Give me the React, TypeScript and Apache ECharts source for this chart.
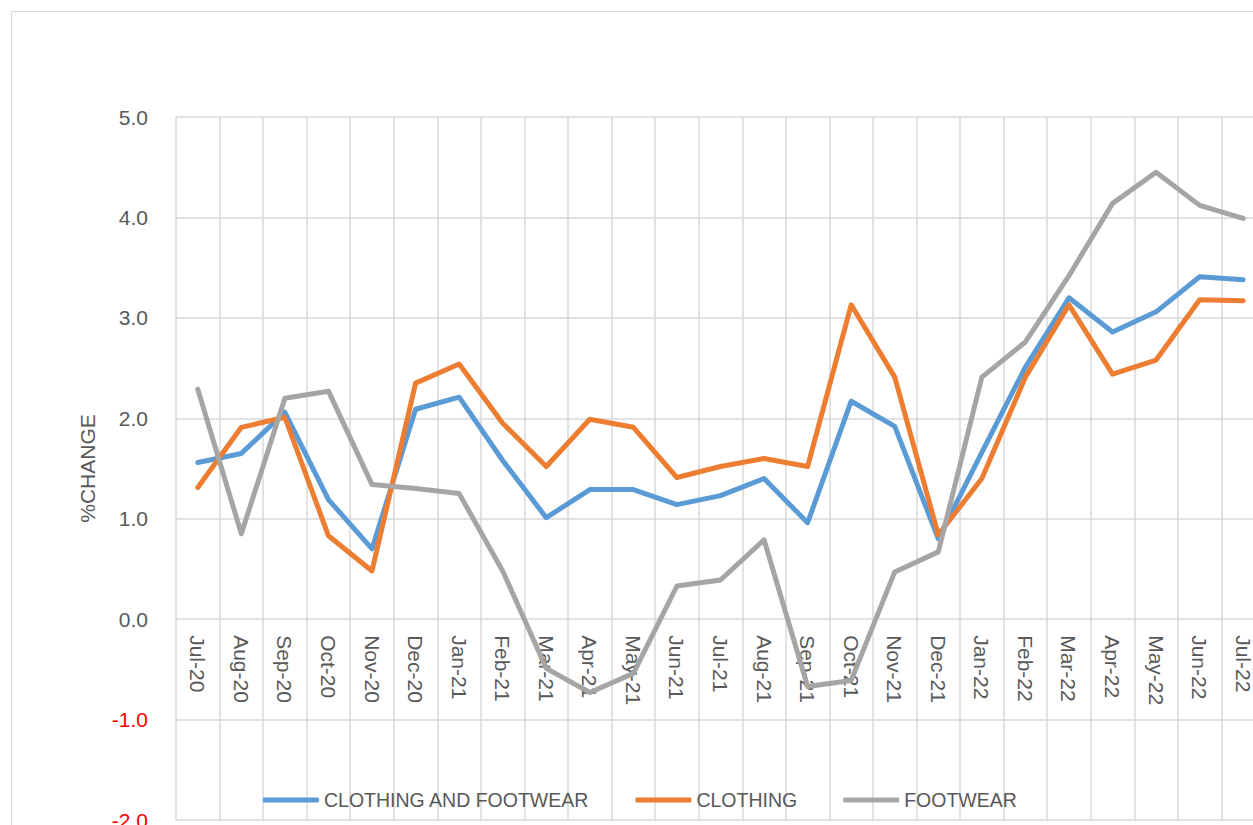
import React, { useEffect, useRef } from "react";
import * as echarts from "echarts";

const categories = [
  "Jul-20", "Aug-20", "Sep-20", "Oct-20", "Nov-20", "Dec-20", "Jan-21", "Feb-21", "Mar-21",
  "Apr-21", "May-21", "Jun-21", "Jul-21", "Aug-21", "Sep-21", "Oct-21", "Nov-21", "Dec-21",
  "Jan-22", "Feb-22", "Mar-22", "Apr-22", "May-22", "Jun-22", "Jul-22",
];

const clothingAndFootwear = [
  1.56, 1.65, 2.06, 1.19, 0.70, 2.09, 2.21, 1.58, 1.01, 1.29, 1.29, 1.14, 1.23, 1.40, 0.96,
  2.17, 1.92, 0.80, 1.66, 2.51, 3.20, 2.86, 3.06, 3.41, 3.38,
];

const clothing = [
  1.31, 1.91, 2.01, 0.83, 0.48, 2.35, 2.54, 1.95, 1.52, 1.99, 1.91, 1.41, 1.52, 1.60, 1.52,
  3.13, 2.41, 0.84, 1.40, 2.41, 3.13, 2.44, 2.58, 3.18, 3.17,
];

const footwear = [
  2.29, 0.85, 2.20, 2.27, 1.34, 1.30, 1.25, 0.48, -0.49, -0.73, -0.54, 0.33, 0.39, 0.79, -0.67,
  -0.61, 0.47, 0.67, 2.41, 2.76, 3.42, 4.14, 4.45, 4.12, 3.99,
];

const seriesNames = ["CLOTHING AND FOOTWEAR", "CLOTHING", "FOOTWEAR"];
const seriesColors = ["#5B9BD5", "#ED7D31", "#A5A5A5"];
const yAxisName = "%CHANGE";
const yMin = -2;
const yMax = 5;

const FONT = "'Liberation Sans', Arial, sans-serif";
const TEXT = "#595959";
const GRID = "#D9D9D9";

const GRID_TOP = 117;
const GRID_BOTTOM = 5;
const HEIGHT = 825;

export default function App() {
  const ref = useRef<HTMLDivElement>(null);

  useEffect(() => {
    document.body.style.margin = "0";
    if (!ref.current) return;
    const chart = echarts.init(ref.current, null, { renderer: "svg" });
    const data = [clothingAndFootwear, clothing, footwear];
    const plotH = HEIGHT - GRID_TOP - GRID_BOTTOM;
    const zeroOffset = -(plotH * (0 - yMin)) / (yMax - yMin);
    chart.setOption({
      animation: false,
      backgroundColor: "#ffffff",
      textStyle: { fontFamily: FONT },
      graphic: [
        {
          type: "rect",
          shape: { x: 11.5, y: 11.5, width: 1400, height: 1000 },
          style: { fill: "none", stroke: GRID, lineWidth: 1 },
          silent: true,
          z: -10,
        },
      ],
      grid: {
        left: 176,
        right: -12,
        top: GRID_TOP,
        bottom: GRID_BOTTOM,
        containLabel: false,
        outerBoundsMode: "none",
      },
      legend: {
        data: seriesNames,
        left: 258,
        top: 785,
        itemWidth: 56,
        itemHeight: 5,
        itemGap: 46,
        icon: "roundRect",
        textStyle: { color: TEXT, fontSize: 19.5, fontFamily: FONT },
      },
      xAxis: {
        type: "category",
        data: categories,
        boundaryGap: true,
        position: "bottom",
        offset: zeroOffset,
        axisLine: { show: false, onZero: false },
        axisTick: { show: false },
        splitLine: { show: true, lineStyle: { color: GRID, width: 1.5 } },
        axisLabel: {
          rotate: -90,
          interval: 0,
          margin: 16,
          color: TEXT,
          fontSize: 21,
          fontFamily: FONT,
        },
      },
      yAxis: {
        type: "value",
        min: yMin,
        max: yMax,
        interval: 1,
        name: yAxisName,
        nameLocation: "middle",
        nameRotate: 90,
        nameGap: 78,
        nameTextStyle: { color: TEXT, fontSize: 21, fontFamily: FONT },
        axisLine: { show: false },
        axisTick: { show: false },
        splitLine: { show: true, lineStyle: { color: GRID, width: 1.5 } },
        axisLabel: {
          margin: 28,
          fontSize: 21,
          fontFamily: FONT,
          color: TEXT,
          formatter: (v: number) => (v < 0 ? `{neg|${v.toFixed(1)}}` : `{pos|${v.toFixed(1)}}`),
          rich: {
            neg: { color: "#FF0000", fontSize: 21, fontFamily: FONT },
            pos: { color: TEXT, fontSize: 21, fontFamily: FONT },
          },
        },
      },
      series: seriesNames.map((name, i) => ({
        name,
        type: "line",
        data: data[i],
        symbol: "none",
        showSymbol: false,
        color: seriesColors[i],
        lineStyle: { color: seriesColors[i], width: 5, cap: "round", join: "round" },
      })),
    });
    return () => chart.dispose();
  }, []);

  return <div ref={ref} style={{ width: 1253, height: 825 }} />;
}
